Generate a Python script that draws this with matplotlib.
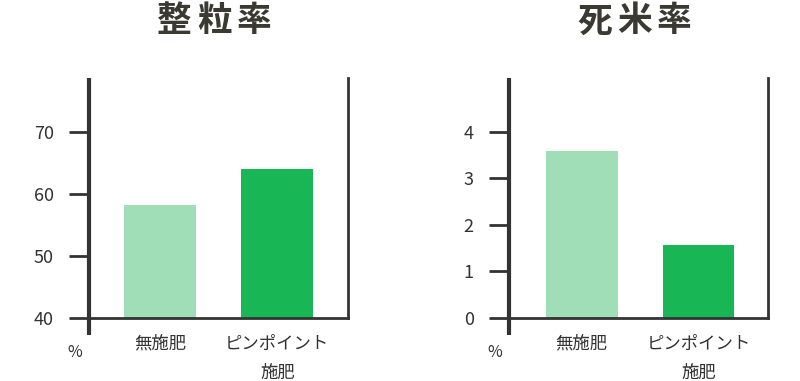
import matplotlib
matplotlib.use("Agg")
import matplotlib.pyplot as plt

plt.rcParams['font.family'] = ['Noto Sans CJK JP', 'DejaVu Sans']

# data
categories = ["無施肥", "ピンポイント\n施肥"]
titles = ["整粒率", "死米率"]
seiryu = [58.2, 64.0]
shimai = [3.6, 1.57]
seiryu_ticks = [40, 50, 60, 70]
shimai_ticks = [0, 1, 2, 3, 4]

colors = ["#9fdeb7", "#19b655"]
dark = "#333333"
title_color = "#3a3a32"

fig = plt.figure(figsize=(8, 3.81), dpi=100)

def draw_panel(rect, values, ticks, ylim, xlim, title):
    ax = fig.add_axes(rect)
    x = [0, 1]
    ax.bar(x, values, width=0.615, color=colors, zorder=2)
    ax.set_xlim(*xlim)
    ax.set_ylim(*ylim)
    ax.set_yticks(ticks)
    ax.set_yticklabels([str(t) for t in ticks])
    ax.set_xticks(x)
    ax.set_xticklabels(categories, fontsize=12.5, color=dark, linespacing=1.8,
                       va='top')
    ax.tick_params(axis='x', length=0, pad=12)
    ax.tick_params(axis='y', length=14.4, width=2, color=dark, pad=11,
                   labelsize=13, labelcolor=dark)
    ax.spines['top'].set_visible(False)
    ax.spines['left'].set_visible(False)
    ax.spines['right'].set_color(dark)
    ax.spines['right'].set_linewidth(2)
    ax.spines['bottom'].set_color(dark)
    ax.spines['bottom'].set_linewidth(2)
    # left axis line runs a bit below the x axis
    ax.plot([0, 0], [-17 / 240, 1], transform=ax.transAxes, color=dark,
            lw=3, clip_on=False, solid_capstyle='butt', zorder=5)
    ax.text(-0.055, -0.145, "%", transform=ax.transAxes, fontsize=11.5,
            color=dark, ha='center', va='center')
    # title, one character at a time for the wide letter spacing
    cx = rect[0] + rect[2] / 2 - 4 / 800
    for i, ch in enumerate(title):
        fig.text(cx + (i - 1) * 40 / 800, 0.945, ch, fontsize=25,
                 fontweight='bold', color=title_color, ha='center', va='center')
    return ax

draw_panel([89 / 800, 63 / 381, 259 / 800, 240 / 381], seiryu, seiryu_ticks,
           (40, 78.7), (-0.607, 1.603), titles[0])
draw_panel([509 / 800, 63 / 381, 259 / 800, 240 / 381], shimai, shimai_ticks,
           (0, 5.16), (-0.62, 1.594), titles[1])

fig.savefig("out.png", dpi=100)
